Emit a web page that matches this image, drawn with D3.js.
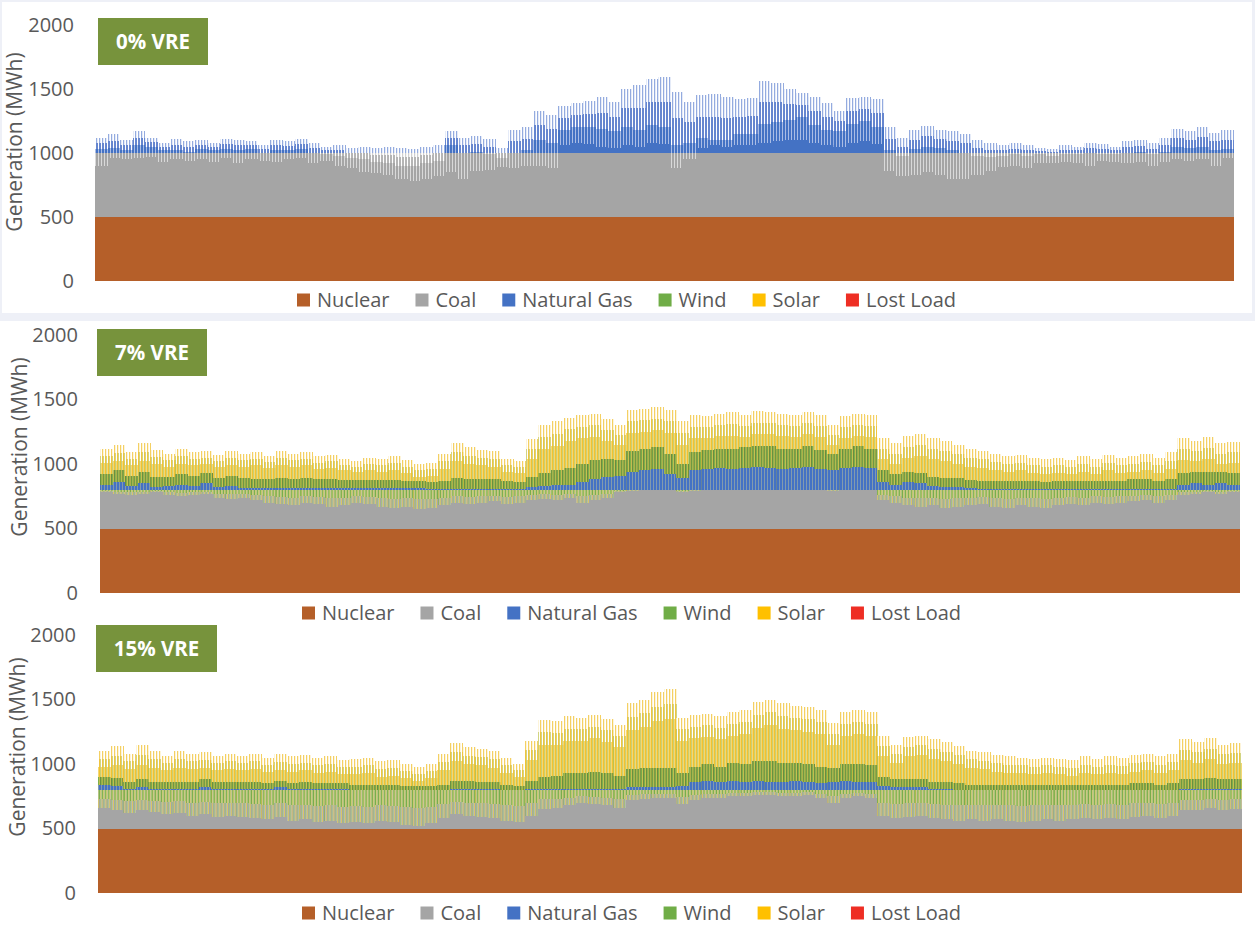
<!DOCTYPE html>
<html>
<head>
<meta charset="utf-8">
<script src="https://cdn.jsdelivr.net/npm/d3@7"></script>
<style>
  body { margin: 0; background: #eef0f7; }
  svg { display: block; font-family: "Open Sans", "Noto Sans", sans-serif; }
</style>
</head>
<body>
<div id="chart"></div>
<script>
// ---- data (MWh, one value per 4-day block of the year) ----
const sources = ['Nuclear', 'Coal', 'Natural Gas', 'Wind', 'Solar', 'Lost Load'];
const sourceColors = ['#b55f29', '#a5a5a5', '#4472c4', '#70ad47', '#ffc000', '#ee2e24'];
const yTicks = [0, 500, 1000, 1500, 2000];
const panelTitles = ['0% VRE', '7% VRE', '15% VRE'];
const nuclearLevel = [500, 500, 500];
const coalCap = [1000, 800, 800];

// 0% VRE: daily peak, typical level, night low
const peak0 = [1120,1150,1100,1170,1120,1080,1110,1090,1100,1080,
  1110,1100,1090,1060,1100,1090,1110,1080,1050,1060,
  1040,1050,1040,1050,1040,1030,1050,1060,1170,1120,
  1130,1110,1040,1180,1200,1330,1300,1370,1390,1410,
  1440,1400,1500,1530,1580,1590,1480,1400,1450,1460,
  1440,1420,1430,1560,1550,1500,1470,1440,1390,1330,
  1430,1440,1420,1200,1120,1180,1210,1180,1170,1150,
  1100,1080,1060,1080,1060,1040,1030,1060,1050,1080,
  1070,1050,1090,1100,1080,1120,1190,1170,1200,1160,
  1180];
const mid0 = [1030,1040,1020,1060,1050,1020,1020,1010,1030,1020,
  1030,1020,1030,1000,1020,1020,1030,1000,990,980,
  960,950,930,920,900,900,920,940,1060,1000,
  1010,990,960,1000,1020,1100,1080,1180,1200,1200,
  1190,1170,1200,1180,1220,1200,1060,1080,1120,1100,
  1100,1150,1150,1230,1240,1260,1280,1220,1180,1170,
  1230,1250,1200,1020,980,1030,1050,1040,1020,1000,
  980,970,980,990,980,990,980,990,990,1000,
  990,990,1000,1010,990,1010,1050,1040,1050,1020,
  1030];
const low0 = [900,960,950,960,970,930,950,940,950,930,
  960,920,950,940,930,950,960,920,940,900,
  880,850,840,830,800,780,800,820,850,800,
  860,870,890,880,900,900,880,1060,1080,1070,
  1050,1040,1060,1050,1080,1070,880,950,1040,1060,
  1050,1060,1060,1080,1090,1100,1100,1080,1060,1050,
  1080,1090,1070,860,820,830,850,830,800,800,
  830,860,890,900,880,920,920,930,920,900,
  940,930,920,930,900,930,950,940,950,900,
  960];

// 7% VRE
const peak7 = [1120,1150,1090,1160,1110,1080,1120,1090,1100,1070,
  1100,1080,1090,1060,1100,1080,1090,1060,1070,1040,
  1020,1050,1040,1060,1030,1000,1010,1080,1160,1130,
  1110,1100,1040,1020,1190,1300,1330,1360,1380,1390,
  1350,1300,1420,1430,1440,1420,1330,1380,1370,1390,
  1400,1380,1410,1400,1390,1380,1400,1380,1300,1370,
  1390,1380,1200,1160,1220,1230,1200,1180,1150,1120,
  1100,1080,1060,1070,1050,1040,1050,1030,1060,1040,
  1070,1050,1060,1080,1050,1090,1200,1180,1210,1160,
  1170];
const mid7 = [1010,1020,990,1020,1000,980,1000,990,1000,980,
  990,980,990,970,990,980,990,960,970,950,
  940,950,940,950,930,900,910,960,1020,1000,
  990,980,940,930,1040,1120,1140,1180,1200,1210,
  1180,1150,1240,1250,1260,1240,1150,1200,1200,1220,
  1220,1210,1230,1230,1220,1210,1230,1210,1150,1200,
  1220,1210,1040,1000,1050,1060,1040,1020,1000,980,
  970,950,940,950,930,920,930,920,940,920,
  950,930,940,950,930,960,1030,1020,1040,1000,
  1010];
const gas7 = [40,60,30,50,20,30,40,30,50,20,
  30,15,15,15,15,15,15,15,15,15,
  15,15,15,15,15,15,10,10,10,10,
  10,10,10,10,20,30,40,40,60,80,
  100,110,140,150,160,120,90,150,160,170,
  160,170,180,170,160,170,180,160,150,170,
  180,170,60,40,60,50,30,20,20,15,
  10,10,10,10,10,10,10,10,10,10,
  10,10,10,10,10,10,40,50,40,50,
  40];
const wind7 = [80,90,80,90,80,70,80,80,80,70,
  80,80,70,70,80,70,80,70,70,60,
  60,60,60,60,50,50,50,60,80,70,
  70,70,60,50,80,100,110,130,140,150,
  140,120,160,170,170,160,110,140,150,150,
  160,160,160,170,160,150,160,150,130,150,
  160,150,90,80,80,80,70,70,70,60,
  60,60,60,60,60,50,60,60,60,60,
  60,60,70,70,60,70,90,90,100,90,
  90];
const low7 = [780,770,760,770,780,760,750,760,770,740,
  730,740,720,700,690,680,700,690,670,680,
  700,690,670,660,670,650,660,680,700,690,
  700,710,690,700,720,730,720,740,700,720,
  740,780,790,800,800,800,780,790,800,800,
  800,800,800,800,800,800,800,800,790,800,
  800,800,720,700,680,670,680,660,670,680,
  690,670,660,680,670,660,680,690,680,700,
  690,700,710,720,700,720,760,770,780,770,
  780];

// 15% VRE
const peak15 = [1100,1140,1080,1150,1100,1060,1100,1080,1090,1060,
  1080,1060,1080,1050,1080,1060,1070,1050,1060,1030,
  1040,1050,1020,1030,1000,980,1000,1080,1160,1130,
  1120,1100,1050,1000,1180,1340,1330,1370,1360,1380,
  1350,1300,1470,1500,1560,1580,1360,1380,1390,1370,
  1400,1420,1480,1500,1470,1450,1440,1420,1320,1400,
  1420,1400,1220,1150,1210,1220,1190,1170,1140,1100,
  1090,1070,1060,1050,1040,1050,1040,1030,1060,1040,
  1060,1050,1070,1080,1060,1080,1190,1170,1200,1150,
  1160];
const mid15 = [980,990,960,990,970,950,970,960,970,950,
  960,950,960,940,950,940,950,930,940,920,
  920,930,900,910,890,870,890,950,1020,1000,
  990,970,930,900,1030,1150,1150,1180,1180,1200,
  1170,1130,1260,1290,1330,1350,1180,1200,1210,1190,
  1220,1230,1280,1300,1270,1260,1250,1230,1150,1220,
  1230,1220,1060,1010,1060,1070,1040,1020,1000,970,
  960,940,930,930,920,930,920,910,930,920,
  930,920,940,950,930,950,1030,1010,1040,1000,
  1010];
const gas15 = [40,30,10,20,10,10,10,10,20,10,
  10,10,10,10,20,10,10,10,10,10,
  0,0,0,0,0,0,0,0,10,10,
  10,10,0,0,10,10,10,10,10,10,
  10,10,20,20,20,20,30,60,70,60,
  70,60,70,60,60,70,60,50,60,70,
  60,60,30,20,20,20,10,10,0,0,
  0,0,0,0,0,0,0,0,0,0,
  0,0,0,0,0,0,10,10,10,10,
  10];
const wind15 = [60,60,50,60,50,50,50,50,60,50,
  50,50,50,40,50,40,50,40,40,40,
  40,40,40,40,30,30,30,40,60,60,
  50,50,40,30,60,90,100,120,120,130,
  120,100,140,150,150,150,100,120,130,120,
  140,140,150,160,150,140,140,130,110,130,
  140,130,70,60,60,60,50,50,50,40,
  40,40,40,40,40,40,40,40,40,40,
  40,40,50,50,40,50,70,70,80,70,
  70];
const low15 = [660,640,620,640,630,610,620,600,610,590,
  600,590,580,570,590,560,570,550,560,540,
  550,540,560,550,530,520,540,580,610,600,
  590,580,560,550,600,650,660,680,700,690,
  680,660,720,730,740,740,690,720,740,740,
  750,750,760,760,750,750,760,740,700,740,
  750,740,600,580,590,600,580,570,560,570,
  560,570,560,550,560,570,560,570,580,570,
  580,570,590,600,580,600,640,640,660,640,
  650];

// ---- layout ----
const W = 1255, H = 927;
const panels = [
  { bg: [2, 2, 1250, 311], left: 95, right: 1234, y0: 281, y2000: 25, tickX: 74,
    titleX: 15, titleY: 142, legendX: 297, legendY: 300, box: [98, 18, 110, 47] },
  { bg: [0, 321, 1255, 299], left: 100, right: 1240, y0: 593, y2000: 335, tickX: 78,
    titleX: 20, titleY: 447, legendX: 302, legendY: 613, box: [97, 329, 110, 47] },
  { bg: [0, 620, 1255, 307], left: 98, right: 1242, y0: 893, y2000: 635, tickX: 76,
    titleX: 18, titleY: 747, legendX: 302, legendY: 913, box: [96, 625, 121, 47] }
];

const svg = d3.select('#chart').append('svg')
  .attr('width', W)
  .attr('height', H);

// stripe patterns give the hourly "spiky" texture
const defs = svg.append('defs');
function stripes(id, list) {
  const total = d3.sum(list, d => d[1]);
  const p = defs.append('pattern')
    .attr('id', id)
    .attr('patternUnits', 'userSpaceOnUse')
    .attr('width', total)
    .attr('height', 4);
  let x = 0;
  list.forEach(([c, w]) => {
    p.append('rect').attr('x', x).attr('y', 0).attr('width', w).attr('height', 4).attr('fill', c);
    x += w;
  });
}
stripes('coalDense', [['#a5a5a5', 2], ['#d9d9d9', 1]]);
stripes('coalLight1', [['#b5b5b5', 2], ['#ffffff', 1]]);
stripes('coalLight2', [['#cfcfcf', 1.5], ['#ffffff', 1.5]]);
stripes('gasDense', [['#4472c4', 2.3], ['#9db2e2', 0.7]]);
stripes('gasLight1', [['#6686cf', 2], ['#ffffff', 1]]);
stripes('gasLight2', [['#94abdf', 1.5], ['#ffffff', 1.5]]);
stripes('gasMix', [['#4472c4', 2.4], ['#5f7c8a', 0.6]]);
stripes('dipLow', [['#a5a5a5', 1.2], ['#86b055', 1], ['#a5a5a5', 0.8], ['#d6bf4a', 0.8]]);
stripes('dipHigh', [['#78ad4a', 1.2], ['#e0c13c', 0.8], ['#a5a5a5', 0.5], ['#8db650', 0.6]]);
stripes('windDense', [['#7bb04a', 1], ['#d2bd36', 0.8], ['#67883f', 1]]);
stripes('solarDense', [['#f2c230', 1.4], ['#a9bd4b', 0.8], ['#f6d15a', 0.8]]);
stripes('solarLight1', [['#efc43e', 1.4], ['#b9c760', 0.6], ['#ffffff', 1]]);
stripes('solarLight2', [['#f4d063', 1.5], ['#ffffff', 1.5]]);

// split a stripe band in its lower (denser) and upper (sparser) half
function lightBand(push, a, b, f1, f2) {
  if (b <= a) return;
  const m = a + (b - a) * 0.5;
  push(a, m, f1);
  push(m, b, f2);
}

function segments0(i) {
  const cap = coalCap[0], L = low0[i], M = mid0[i], P = peak0[i];
  const out = [];
  const band = (a, b, below, above) => {
    if (b <= a) return;
    if (a < cap) out.push([a, Math.min(b, cap), below]);
    if (b > cap) out.push([Math.max(a, cap), b, above]);
  };
  band(nuclearLevel[0], L, '#a5a5a5', '#4472c4');
  band(L, M, 'url(#coalDense)', 'url(#gasDense)');
  const top = Math.max(L, M);
  const half = top + (P - top) * 0.5;
  band(top, half, 'url(#coalLight1)', 'url(#gasLight1)');
  band(half, P, 'url(#coalLight2)', 'url(#gasLight2)');
  return out;
}

function segmentsVre(k, i, peak, mid, gas, wind, low) {
  const cap = coalCap[k], out = [];
  const push = (a, b, f) => { if (b > a) out.push([a, b, f]); };
  push(nuclearLevel[k], low[i], '#a5a5a5');
  lightBand(push, low[i], cap, 'url(#dipLow)', 'url(#dipHigh)');
  const g = cap + gas[i], w = g + wind[i];
  push(cap, g, 'url(#gasMix)');
  push(g, w, 'url(#windDense)');
  push(w, mid[i], 'url(#solarDense)');
  lightBand(push, Math.max(w, mid[i]), peak[i], 'url(#solarLight1)', 'url(#solarLight2)');
  return out;
}

const builders = [
  i => segments0(i),
  i => segmentsVre(1, i, peak7, mid7, gas7, wind7, low7),
  i => segmentsVre(2, i, peak15, mid15, gas15, wind15, low15)
];
const nBins = peak0.length;

panels.forEach((p, k) => {
  const g = svg.append('g');
  g.append('rect')
    .attr('x', p.bg[0]).attr('y', p.bg[1])
    .attr('width', p.bg[2]).attr('height', p.bg[3])
    .attr('fill', '#ffffff');

  const x = d3.scaleLinear().domain([0, nBins]).range([p.left, p.right]);
  const y = d3.scaleLinear().domain([0, 2000]).range([p.y0, p.y2000]);

  // nuclear base block
  g.append('rect')
    .attr('x', x(0)).attr('width', x(nBins) - x(0))
    .attr('y', y(nuclearLevel[k])).attr('height', y(0) - y(nuclearLevel[k]))
    .attr('fill', sourceColors[0]);

  const segs = [];
  d3.range(nBins).forEach(i => builders[k](i).forEach(s => segs.push({ i, y0: s[0], y1: s[1], fill: s[2] })));

  g.append('g').selectAll('rect')
    .data(segs)
    .enter()
    .append('rect')
    .attr('x', d => x(d.i))
    .attr('width', d => x(d.i + 1) - x(d.i) + 0.4)
    .attr('y', d => y(d.y1))
    .attr('height', d => y(d.y0) - y(d.y1))
    .attr('fill', d => d.fill)
    .attr('shape-rendering', 'crispEdges');

  // y axis
  const ax = g.append('g')
    .attr('transform', `translate(${p.left},0)`)
    .call(d3.axisLeft(y).tickValues(yTicks).tickFormat(d3.format('d'))
      .tickSize(0).tickPadding(p.left - p.tickX));
  ax.select('.domain').remove();
  ax.selectAll('text')
    .attr('fill', '#595959')
    .style('font-size', '20px')
    .style('font-family', '"Open Sans", sans-serif');

  g.append('text')
    .attr('transform', `translate(${p.titleX},${p.titleY}) rotate(-90)`)
    .attr('text-anchor', 'middle')
    .attr('dy', '0.35em')
    .attr('fill', '#595959')
    .style('font-size', '21px')
    .text('Generation (MWh)');

  // title badge
  g.append('rect')
    .attr('x', p.box[0]).attr('y', p.box[1])
    .attr('width', p.box[2]).attr('height', p.box[3])
    .attr('fill', '#77933c');
  g.append('text')
    .attr('x', p.box[0] + p.box[2] / 2)
    .attr('y', p.box[1] + p.box[3] / 2)
    .attr('dy', '0.36em')
    .attr('text-anchor', 'middle')
    .attr('fill', '#ffffff')
    .style('font-size', '20.5px')
    .style('font-weight', 'bold')
    .text(panelTitles[k]);

  // legend
  let lx = p.legendX;
  sources.forEach((s, j) => {
    g.append('rect')
      .attr('x', lx).attr('y', p.legendY - 6.5)
      .attr('width', 13).attr('height', 13)
      .attr('fill', sourceColors[j]);
    const t = g.append('text')
      .attr('x', lx + 20).attr('y', p.legendY)
      .attr('dy', '0.35em')
      .attr('fill', '#595959')
      .style('font-size', '20px')
      .text(s);
    lx += 20 + t.node().getComputedTextLength() + 26;
  });
});
</script>
</body>
</html>
